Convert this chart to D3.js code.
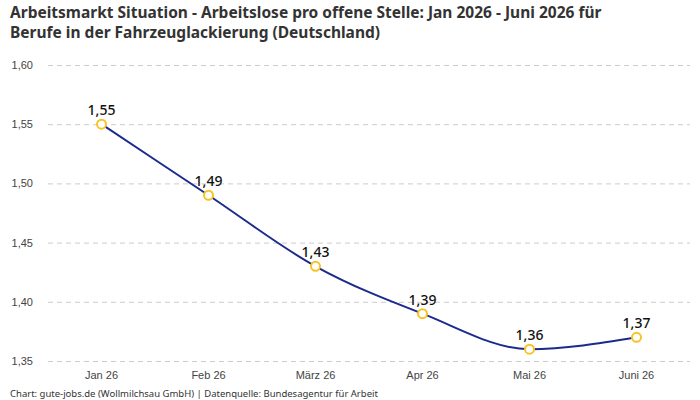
<!DOCTYPE html>
<html><head><meta charset="utf-8">
<script src="https://cdn.jsdelivr.net/npm/d3@7"></script>
<style>body{margin:0;background:#fff}svg{display:block;font-family:"Noto Sans","Open Sans",sans-serif}</style>
</head><body><svg id="c" width="700" height="400"></svg>
<script>
const categories = ["Jan 26","Feb 26","März 26","Apr 26","Mai 26","Juni 26"];
const values = [1.55,1.49,1.43,1.39,1.36,1.37];
const yTicks = [1.35,1.40,1.45,1.50,1.55,1.60];
const titleLines = ["Arbeitsmarkt Situation - Arbeitslose pro offene Stelle: Jan 2026 - Juni 2026 für","Berufe in der Fahrzeuglackierung (Deutschland)"];
const footer = "Chart: gute-jobs.de (Wollmilchsau GmbH) | Datenquelle: Bundesagentur für Arbeit";

const svg = d3.select("#c");
const fmt = v => v.toFixed(2).replace(".", ",");
const x = d3.scaleBand().domain(categories).range([48,690]);
const y = d3.scaleLinear().domain([1.35,1.60]).range([361,65]);

svg.append("g").selectAll("text").data(titleLines).join("text")
  .attr("x",10).attr("y",(d,i)=>18+i*20).attr("font-size",15.5).attr("font-weight",700)
  .attr("fill","#333").text(d=>d);

const yAxis = svg.append("g").attr("transform","translate(48,0)")
  .call(d3.axisLeft(y).tickValues(yTicks).tickFormat(fmt).tickSize(0).tickPadding(15));
yAxis.select(".domain").remove();
yAxis.selectAll("text").attr("font-size",11).attr("fill","#444").attr("font-family","inherit");
yAxis.selectAll(".tick").append("line").attr("x1",0).attr("x2",642)
  .attr("stroke","#ccc").attr("stroke-dasharray","5,4");

const xAxis = svg.append("g").attr("transform","translate(0,361)")
  .call(d3.axisBottom(x).tickSize(0).tickPadding(10));
xAxis.select(".domain").remove();
xAxis.selectAll("text").attr("font-size",11).attr("fill","#444").attr("font-family","inherit");

const cx = (d,i)=>x(categories[i])+x.bandwidth()/2;
const line = d3.line().x(cx).y(d=>y(d)).curve(d3.curveMonotoneX);
svg.append("path").datum(values).attr("d",line).attr("fill","none")
  .attr("stroke","#1c2a8c").attr("stroke-width",2);

svg.append("g").selectAll("circle").data(values).join("circle")
  .attr("cx",cx).attr("cy",d=>y(d)).attr("r",4.5)
  .attr("fill","#fff").attr("stroke","#f7c325").attr("stroke-width",2);

svg.append("g").selectAll("text").data(values).join("text")
  .attr("x",cx).attr("y",d=>y(d)-9).attr("text-anchor","middle")
  .attr("font-size",14).attr("font-weight",500).attr("fill","#111").text(fmt);

svg.append("text").attr("x",10).attr("y",397).attr("font-size",9.5).attr("fill","#333").text(footer);
</script></body></html>
